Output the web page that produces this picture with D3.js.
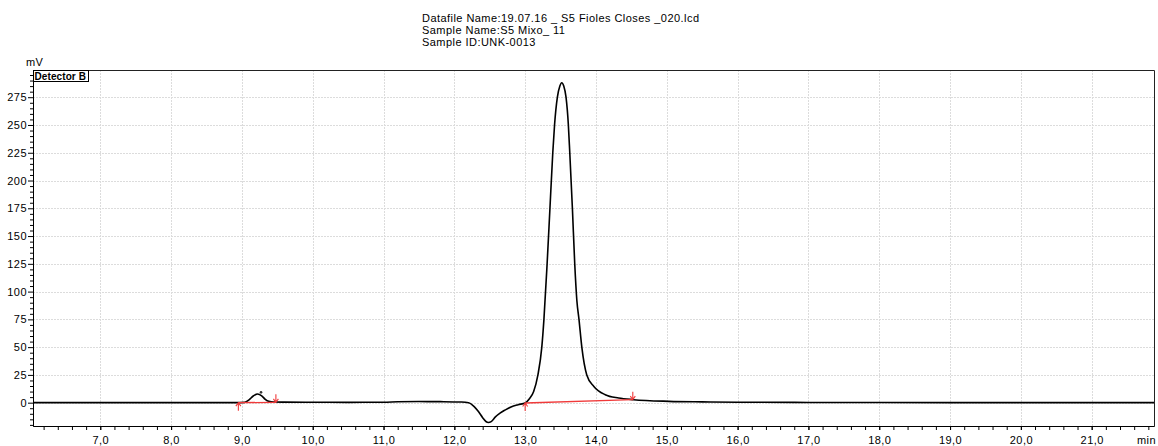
<!DOCTYPE html>
<html>
<head>
<meta charset="utf-8">
<script src="https://cdn.jsdelivr.net/npm/d3@7"></script>
<style>
  body { margin: 0; background: #fff; }
  svg text { font-family: "Liberation Sans", Arial, sans-serif; letter-spacing: 0.45px; }
</style>
</head>
<body>
<div id="chart"></div>
<script>
// header lines
const headerLines = [
  'Datafile Name:19.07.16 _ S5 Fioles Closes _020.lcd',
  'Sample Name:S5 Mixo_ 11',
  'Sample ID:UNK-0013'
];
const detectorName = 'Detector B';

// chromatogram trace (min, mV)
const times = [6.05, 7.0, 8.0, 8.9, 9.04, 9.1, 9.16, 9.22, 9.28, 9.33, 9.38, 9.45, 9.6, 10.0, 10.5,
  11.0, 11.2, 11.5, 11.8, 12.1, 12.2, 12.28, 12.34, 12.4, 12.45, 12.48, 12.52, 12.58, 12.65, 12.72,
  12.8, 12.9, 13.0, 13.06, 13.12, 13.18, 13.235, 13.265, 13.31, 13.35, 13.39, 13.415, 13.455, 13.49,
  13.516, 13.545, 13.577, 13.61, 13.63, 13.667, 13.70, 13.73, 13.76, 13.80, 13.87, 13.97, 14.13,
  14.32, 14.53, 15.03, 15.5, 16.0, 17.0, 18.0, 19.0, 21.88];
const signal = [0, 0, 0, 0, 0.3, 2.5, 6.0, 7.8, 6.2, 3.0, 1.2, 0.6, 0.5, 0.4, 0.3,
  0.4, 0.8, 1.0, 0.9, 0.6, 0.0, -3.5, -8.0, -13.5, -17.2, -17.8, -17.0, -12.8, -9.2, -6.5,
  -3.8, -1.8, -0.3, 3.5, 10, 25, 50, 75, 125, 175, 225, 250, 275, 285,
  288, 285, 275, 250, 225, 175, 125, 92, 75, 50, 25, 14.6, 7.2,
  4.2, 2.7, 1.2, 0.7, 0.4, 0.2, 0.1, 0, 0];

// integration marks
const peakStart = [8.95, 13.0];
const peakStartVal = [0.0, -0.3];
const peakEnd = [9.48, 14.52];
const peakEndVal = [0.3, 2.7];
const peakMarkTime = [9.27];
const peakMarkVal = [9.3];

// axes
const xMajorTicks = [7, 8, 9, 10, 11, 12, 13, 14, 15, 16, 17, 18, 19, 20, 21];
const yMajorTicks = [0, 25, 50, 75, 100, 125, 150, 175, 200, 225, 250, 275];

const W = 1158, H = 446;
const plot = {left: 33, right: 1154, top: 70, bottom: 426};

const svg = d3.select('#chart').append('svg')
  .attr('width', W).attr('height', H);

const x = d3.scaleLinear().domain([6.05, 21.88]).range([plot.left, plot.right]);
const y = d3.scaleLinear().domain([-21, 299.5]).range([plot.bottom, plot.top]);

// header
svg.selectAll('.hdr')
  .data(headerLines)
  .enter().append('text')
  .attr('class', 'hdr')
  .attr('x', 422)
  .attr('y', (d, i) => 22 + i * 12)
  .style('font-size', '11px')
  .text(d => d);

// grid
const grid = svg.append('g');
grid.selectAll('.vg')
  .data(xMajorTicks)
  .enter().append('line')
  .attr('x1', d => Math.round(x(d)) + 0.5).attr('x2', d => Math.round(x(d)) + 0.5)
  .attr('y1', plot.top).attr('y2', plot.bottom)
  .style('stroke', '#dcdcdc').style('stroke-dasharray', '2,1');
grid.selectAll('.hg')
  .data(yMajorTicks)
  .enter().append('line')
  .attr('x1', plot.left).attr('x2', plot.right)
  .attr('y1', d => Math.round(y(d)) + 0.5).attr('y2', d => Math.round(y(d)) + 0.5)
  .style('stroke', '#dcdcdc').style('stroke-dasharray', '2,1');

// frame (top + right)
svg.append('path')
  .attr('d', `M${plot.left},${plot.top + 0.5}H${plot.right + 0.5}V${plot.bottom}`)
  .style('fill', 'none').style('stroke', '#222');

// y axis
const yMinor = d3.range(-20, 300, 5).filter(v => v % 25 !== 0);
svg.append('g')
  .attr('transform', `translate(${plot.left},0)`)
  .call(d3.axisLeft(y).tickValues(yMinor).tickSize(3).tickSizeOuter(0).tickFormat(''))
  .call(g => g.select('.domain').remove());
const yAxis = svg.append('g')
  .attr('transform', `translate(${plot.left},0)`)
  .call(d3.axisLeft(y).tickValues(yMajorTicks).tickSize(5).tickSizeOuter(0).tickPadding(1));
yAxis.selectAll('text').style('font-size', '11px').style('fill', '#000');

// x axis
const xMinor = d3.range(6.2, 21.85, 0.2);
svg.append('g')
  .attr('transform', `translate(0,${plot.bottom})`)
  .call(d3.axisBottom(x).tickValues(xMinor).tickSize(4).tickSizeOuter(0).tickFormat(''));
const xLab = svg.append('g')
  .attr('transform', `translate(0,${plot.bottom})`)
  .call(d3.axisBottom(x).tickValues(xMajorTicks).tickSize(4).tickSizeOuter(0).tickPadding(6)
    .tickFormat(d => d3.format('.1f')(d).replace('.', ',')));
xLab.selectAll('text').style('font-size', '11px').style('fill', '#000');
svg.selectAll('.domain, .tick line').style('stroke', '#000');

svg.append('text').attr('x', 26).attr('y', 66).style('font-size', '11px').text('mV');
svg.append('text').attr('x', 1137).attr('y', 444).style('font-size', '11px').text('min');

// detector label box
svg.append('rect')
  .attr('x', plot.left + 0.5).attr('y', plot.top + 0.5)
  .attr('width', 55).attr('height', 11)
  .style('fill', '#fff').style('stroke', '#000');
svg.append('text')
  .attr('x', plot.left + 1.5).attr('y', plot.top + 9.5)
  .style('font-size', '10px').style('font-weight', 'bold').style('letter-spacing', '0.1px')
  .text(detectorName);

// clip
svg.append('clipPath').attr('id', 'clip')
  .append('rect').attr('x', plot.left).attr('y', plot.top)
  .attr('width', plot.right - plot.left).attr('height', plot.bottom - plot.top);

// trace
const pts = times.map((t, i) => [t, signal[i]]);
const line = d3.line()
  .x(d => x(d[0])).y(d => y(d[1]))
  .curve(d3.curveMonotoneX);
svg.append('path')
  .datum(pts)
  .attr('clip-path', 'url(#clip)')
  .attr('d', line)
  .style('fill', 'none').style('stroke', '#000').style('stroke-width', 1.6);

// integration baselines + arrows
const marks = svg.append('g').style('stroke', '#f03a3a').style('fill', 'none');
peakStart.forEach(function(s, i) {
  marks.append('line')
    .attr('x1', x(s)).attr('y1', y(peakStartVal[i]))
    .attr('x2', x(peakEnd[i])).attr('y2', y(peakEndVal[i]))
    .style('stroke-width', 1.3);
  let sx = x(s), sy = y(peakStartVal[i]);
  marks.append('path')
    .attr('d', `M${sx},${sy + 8}V${sy}M${sx - 2.5},${sy + 3.5}L${sx},${sy}L${sx + 2.5},${sy + 3.5}`)
    .style('stroke-width', 1.1);
  let ex = x(peakEnd[i]), ey = y(peakEndVal[i]);
  marks.append('path')
    .attr('d', `M${ex},${ey - 8}V${ey}M${ex - 2.5},${ey - 3.5}L${ex},${ey}L${ex + 2.5},${ey - 3.5}`)
    .style('stroke-width', 1.1);
});

svg.selectAll('.pkmark')
  .data(peakMarkTime)
  .enter().append('circle')
  .attr('cx', d => x(d))
  .attr('cy', (d, i) => y(peakMarkVal[i]))
  .attr('r', 1.3)
  .style('fill', '#333');
</script>
</body>
</html>
